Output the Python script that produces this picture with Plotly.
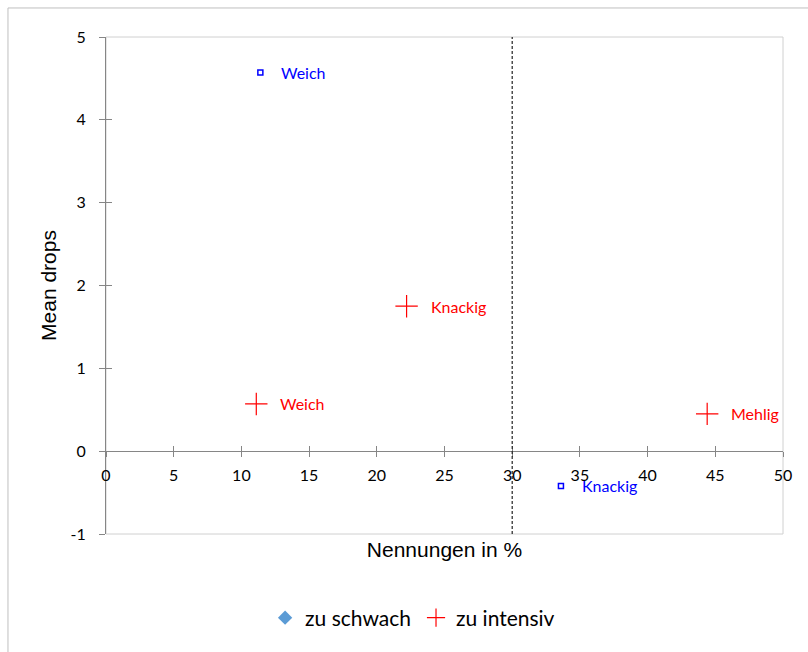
import plotly.graph_objects as go

# Attributes rated "too weak"
weak_labels = ["Weich", "Knackig"]
weak_pct = [11.4, 33.6]
weak_drops = [4.57, -0.42]

# Attributes rated "too intense"
strong_labels = ["Weich", "Knackig", "Mehlig"]
strong_pct = [11.1, 22.2, 44.4]
strong_drops = [0.57, 1.75, 0.45]

threshold_pct = 30
x_ticks = list(range(0, 55, 5))
y_ticks = list(range(-1, 6))
y_tick_text = ["-1", "0", "1", "2", "3", "4", "5"]

BLUE = "#0000FF"
RED = "#FF0000"
AXIS_GREY = "#868686"
BORDER_GREY = "#D0D0D0"
LABEL_FONT = "Lato, Carlito, Calibri, sans-serif"
TITLE_FONT = "Liberation Sans, Arial, sans-serif"

fig = go.Figure()

fig.add_trace(go.Scatter(
    x=weak_pct, y=weak_drops, mode="markers", showlegend=False,
    marker=dict(symbol="square-open", size=5, color=BLUE, line=dict(width=1.5, color=BLUE)),
))
fig.add_trace(go.Scatter(
    x=strong_pct, y=strong_drops, mode="markers", showlegend=False,
    marker=dict(symbol="cross-thin-open", size=16, color=RED, line=dict(width=1.2, color=RED)),
))

# Legend entries
fig.add_trace(go.Scatter(
    x=[None], y=[None], mode="markers", name="zu schwach",
    marker=dict(symbol="diamond", size=11, color="#5B9BD5"),
))
fig.add_trace(go.Scatter(
    x=[None], y=[None], mode="markers", name="zu intensiv",
    marker=dict(symbol="cross-thin-open", size=13, color=RED, line=dict(width=1.2, color=RED)),
))

annotations = []
for lab, xv, yv in zip(weak_labels, weak_pct, weak_drops):
    annotations.append(dict(x=xv, y=yv, text=lab, showarrow=False, xanchor="left",
                            xshift=19, font=dict(family=LABEL_FONT, size=16, color=BLUE)))
for lab, xv, yv in zip(strong_labels, strong_pct, strong_drops):
    annotations.append(dict(x=xv, y=yv, text=lab, showarrow=False, xanchor="left",
                            xshift=22, font=dict(family=LABEL_FONT, size=16, color=RED)))

shapes = [
    # plot area frame
    dict(type="rect", xref="paper", yref="paper", x0=0, x1=1, y0=0, y1=1,
         line=dict(color=BORDER_GREY, width=1), layer="below"),
    # chart outer frame
    dict(type="rect", xref="paper", yref="paper", x0=-0.1448, x1=1.2, y0=-0.4, y1=1.0584,
         line=dict(color="#BFBFBF", width=1), layer="below"),
    # threshold line
    dict(type="line", xref="x", yref="y", x0=threshold_pct, x1=threshold_pct,
         y0=y_ticks[0], y1=y_ticks[-1], line=dict(color="#222222", width=1.2, dash="3px,2px")),
]

tick_font = dict(family=LABEL_FONT, size=16, color="#000000")

fig.update_layout(
    width=808, height=652,
    margin=dict(l=106, r=25, t=37, b=118),
    paper_bgcolor="white", plot_bgcolor="white",
    showlegend=True,
    legend=dict(orientation="h", x=0.235, xanchor="left", y=-0.169, yanchor="middle",
                font=dict(family=LABEL_FONT, size=21, color="#000000"),
                itemwidth=30, tracegroupgap=0),
    xaxis=dict(range=[0, 50], tickvals=x_ticks, showgrid=False, zeroline=False,
               anchor="free", position=1 / 6, showline=True, linecolor=AXIS_GREY, linewidth=1,
               ticks="outside", ticklen=5, tickcolor=AXIS_GREY, tickfont=tick_font,
               ticklabelstandoff=5,
               title=dict(text="Nennungen in %", standoff=58,
                          font=dict(family=TITLE_FONT, size=21, color="#000000"))),
    xaxis2=dict(range=[0, 50], tickvals=x_ticks, overlaying="x", anchor="free", position=1 / 6,
                showgrid=False, zeroline=False, showline=False, ticks="inside", ticklen=5,
                tickcolor=AXIS_GREY, showticklabels=False),
    yaxis=dict(range=[-1, 5], tickvals=y_ticks, ticktext=y_tick_text, showgrid=False,
               zeroline=False, showline=True, linecolor=AXIS_GREY, linewidth=1,
               ticks="outside", ticklen=6, tickcolor=AXIS_GREY, tickfont=tick_font,
               ticklabelstandoff=10,
               title=dict(text="Mean drops", standoff=8,
                          font=dict(family=TITLE_FONT, size=21, color="#000000"))),
    yaxis2=dict(range=[-1, 5], tickvals=y_ticks, overlaying="y", anchor="x",
                showgrid=False, zeroline=False, showline=False, ticks="inside", ticklen=6,
                tickcolor=AXIS_GREY, showticklabels=False),
    annotations=annotations,
    shapes=shapes,
)

# empty trace so the secondary tick axes are rendered
fig.add_trace(go.Scatter(x=[None], y=[None], xaxis="x2", yaxis="y2", showlegend=False, hoverinfo="skip"))

fig.write_html("out.html")
